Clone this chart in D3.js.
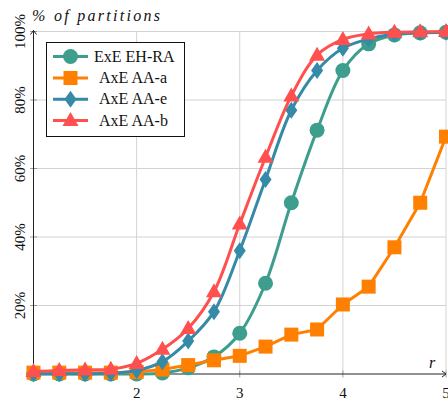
<!DOCTYPE html>
<html><head><meta charset="utf-8">
<script src="https://cdn.jsdelivr.net/npm/d3@7"></script>
<style>body{margin:0;background:#fff}svg{display:block}</style>
</head><body>
<svg id="c" width="448" height="403"></svg>
<script>
const rValues = [1,1.25,1.5,1.75,2,2.25,2.5,2.75,3,3.25,3.5,3.75,4,4.25,4.5,4.75,5];
const exeEhRa = [0,0,0,0,0,0.3,1.8,5,11.9,26.5,50,71.2,88.6,96.4,99,99.6,99.8];
const axeAaA  = [0.4,0.4,0.4,0.4,0.6,1.3,2.6,4,5.3,8,11.5,13,20.3,25.5,37,50,69.3];
const axeAaE  = [0.1,0.1,0.1,0.2,1,3.6,9.6,18.2,36,56.8,77,88.6,95.1,97.8,99.3,99.7,99.8];
const axeAaB  = [0.7,1,1.2,1.4,3.1,7.2,13.3,24,43.8,63.3,81.2,93.1,97.7,99.3,99.8,99.9,100];
const seriesNames = ["ExE EH-RA","AxE AA-a","AxE AA-e","AxE AA-b"];
const xTicks = [2,3,4,5];
const yTicks = [20,40,60,80,100];
const yTickLabels = ["20%","40%","60%","80%","100%"];

const series = [
  {name:seriesNames[0], values:exeEhRa, color:"#3d9e8e", shape:"circle", smooth:true},
  {name:seriesNames[1], values:axeAaA, color:"#ff8000", shape:"square", smooth:false},
  {name:seriesNames[2], values:axeAaE, color:"#348aa7", shape:"diamond", smooth:true},
  {name:seriesNames[3], values:axeAaB, color:"#ff4f4f", shape:"triangle", smooth:true}
];

const svg = d3.select("#c");
const x = d3.scaleLinear().domain([1,5]).range([33.5,446]);
const y = d3.scaleLinear().domain([0,100]).range([374,31.5]);
const serif = "'Liberation Serif','DejaVu Serif',serif";

// grid
const g = svg.append("g");
g.selectAll(".vg").data(xTicks).enter().append("line")
  .attr("x1",d=>x(d)).attr("x2",d=>x(d)).attr("y1",y(0)).attr("y2",y(100))
  .attr("stroke","#d3d3d3").attr("stroke-width",1);
g.selectAll(".hg").data(yTicks).enter().append("line")
  .attr("x1",x(1)).attr("x2",x(5)).attr("y1",d=>y(d)).attr("y2",d=>y(d))
  .attr("stroke","#d3d3d3").attr("stroke-width",1);

// tick marks
g.selectAll(".yt").data(yTicks).enter().append("line")
  .attr("x1",x(1)-3.5).attr("x2",x(1)+3.5).attr("y1",d=>y(d)).attr("y2",d=>y(d))
  .attr("stroke","#888").attr("stroke-width",0.8);
g.selectAll(".xt").data(xTicks).enter().append("line")
  .attr("x1",d=>x(d)).attr("x2",d=>x(d)).attr("y1",y(0)-3.5).attr("y2",y(0)+3.5)
  .attr("stroke","#888").attr("stroke-width",0.8);

// axes lines with arrows
svg.append("line").attr("x1",x(1)).attr("x2",x(1)).attr("y1",y(0)).attr("y2",y(100)-1)
  .attr("stroke","#222").attr("stroke-width",1);
svg.append("path").attr("d",`M${x(1)-3},${y(100)+3} L${x(1)},${y(100)-1} L${x(1)+3},${y(100)+3}`)
  .attr("fill","none").attr("stroke","#222").attr("stroke-width",1);
svg.append("line").attr("x1",x(1)).attr("x2",x(5)).attr("y1",y(0)).attr("y2",y(0))
  .attr("stroke","#222").attr("stroke-width",1);
svg.append("path").attr("d",`M${x(5)-4},${y(0)-3} L${x(5)},${y(0)} L${x(5)-4},${y(0)+3}`)
  .attr("fill","none").attr("stroke","#222").attr("stroke-width",1);

// tick labels
svg.selectAll(".xl").data(xTicks).enter().append("text")
  .attr("x",d=>x(d)).attr("y",398).attr("text-anchor","middle")
  .attr("font-family",serif).attr("font-size",15).attr("fill","#111").text(d=>d);
svg.selectAll(".yl").data(yTicks).enter().append("text")
  .attr("transform",(d)=>`translate(24.5,${y(d)}) rotate(-90)`)
  .attr("text-anchor","middle")
  .attr("font-family",serif).attr("font-size",15).attr("fill","#111")
  .text((d,i)=>yTickLabels[i]);

// axis titles
svg.append("text").attr("x",32).attr("y",21)
  .attr("font-family",serif).attr("font-style","italic").attr("font-size",16)
  .attr("textLength",128).attr("lengthAdjust","spacing").attr("fill","#111")
  .text("% of partitions");
svg.append("text").attr("x",429).attr("y",368)
  .attr("font-family",serif).attr("font-style","italic").attr("font-size",16).attr("fill","#111")
  .text("r");

function marker(sel, shape, color){
  if(shape==="circle") sel.append("circle").attr("r",7.5).attr("fill",color);
  else if(shape==="square") sel.append("rect").attr("x",-7).attr("y",-7).attr("width",14).attr("height",14).attr("fill",color);
  else if(shape==="diamond") sel.append("path").attr("d","M0,-8.5 L6,0 L0,8.5 L-6,0 Z").attr("fill",color);
  else if(shape==="triangle") sel.append("path").attr("d","M0,-8.5 L8,5.5 L-8,5.5 Z").attr("fill",color);
}

series.forEach(s=>{
  const line = d3.line().x((d,i)=>x(rValues[i])).y(d=>y(d))
    .curve(s.smooth ? d3.curveCatmullRom.alpha(0.5) : d3.curveLinear);
  svg.append("path").datum(s.values).attr("d",line)
    .attr("fill","none").attr("stroke",s.color).attr("stroke-width",3).attr("stroke-linejoin","round");
  s.values.forEach((v,i)=>{
    const m = svg.append("g").attr("transform",`translate(${x(rValues[i])},${y(v)})`);
    marker(m, s.shape, s.color);
  });
});

// legend
const lg = svg.append("g");
lg.append("rect").attr("x",46.5).attr("y",42.5).attr("width",138).attr("height",94)
  .attr("fill","#fff").attr("stroke","#111").attr("stroke-width",1);
const rowY = [56.5,78,99.3,120.5];
const textX = [94,99,99,99];
series.forEach((s,i)=>{
  lg.append("line").attr("x1",53).attr("x2",88).attr("y1",rowY[i]).attr("y2",rowY[i])
    .attr("stroke",s.color).attr("stroke-width",3);
  const m = lg.append("g").attr("transform",`translate(70.5,${rowY[i]})`);
  marker(m, s.shape, s.color);
  lg.append("text").attr("x",textX[i]).attr("y",rowY[i]+5)
    .attr("font-family",serif).attr("font-size",16).attr("fill","#111").text(s.name);
});
</script>
</body></html>
